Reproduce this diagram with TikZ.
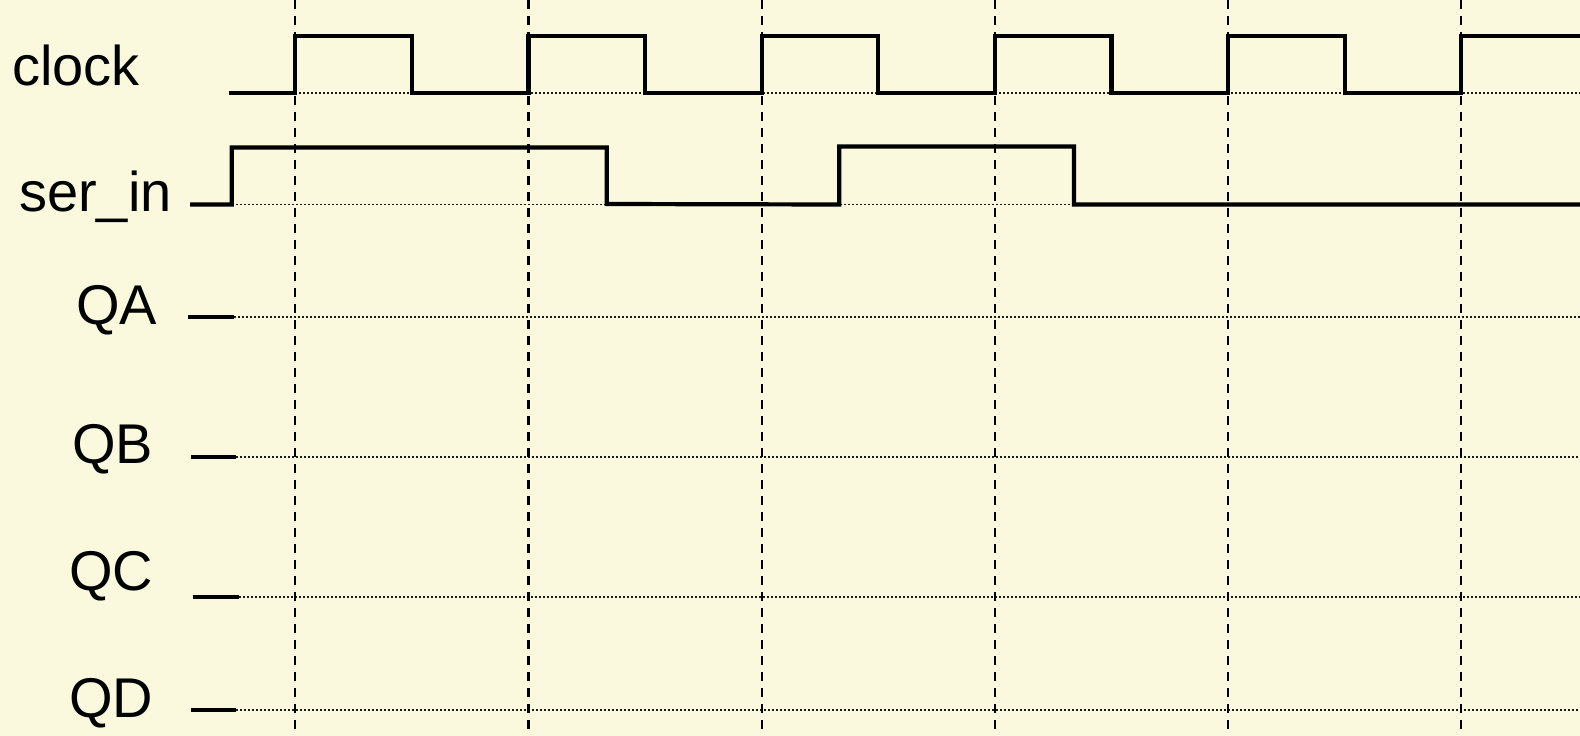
\documentclass[tikz,border=0pt]{standalone}
\usepackage{fontspec}
\setmainfont{Liberation Sans}
\definecolor{bgyellow}{RGB}{250,249,221}
\tikzset{
  sig/.style={line width=4.2pt, line join=miter},
  baseln/.style={line width=1.9pt, dash pattern=on 2pt off 2pt, black!90},
  tick/.style={line width=2.1pt, dash pattern=on 9pt off 7pt, black},
  lbl/.style={anchor=base west, inner sep=0pt, font=\fontsize{56}{60}\selectfont}
}
\begin{document}
\begin{tikzpicture}[x=1pt,y=-1pt]
\fill[bgyellow] (0,0) rectangle (1580,736);
\useasboundingbox (0,0) rectangle (1580,736);
% labels
\node[lbl] (lclock) at (12,85) {clock};
\node[lbl] (lser) at (19,211.5) {ser\_in};
\node[lbl] (lqa) at (76,324) {QA};
\node[lbl] (lqb) at (72,463) {QB};
\node[lbl] (lqc) at (69,590) {QC};
\node[lbl] (lqd) at (69,717) {QD};
% dotted baselines
\draw[baseln] (295,92.7) -- (1580,92.7);
\draw[baseln] (232,204.5) -- (1580,204.5);
\draw[baseln] (234,316.7) -- (1580,316.7);
\draw[baseln] (236,457) -- (1580,457);
\draw[baseln] (238.7,597) -- (1580,597);
\draw[baseln] (236,710) -- (1580,710);
% clock edges (dashed)
\foreach \x in {295.3,528.5,761.7,994.9,1228.1,1461.3}
  \draw[tick] (\x,0) -- (\x,736);
% clock
\draw[sig] (229,92.7) -- (295.3,92.7) -- (295.3,36) -- (411.9,36) -- (411.9,92.7)
  -- (528.5,92.7) -- (528.5,36) -- (645.1,36) -- (645.1,92.7)
  -- (761.7,92.7) -- (761.7,36) -- (878.3,36) -- (878.3,92.7)
  -- (994.9,92.7) -- (994.9,36) -- (1111.5,36) -- (1111.5,92.7)
  -- (1228.1,92.7) -- (1228.1,36) -- (1344.7,36) -- (1344.7,92.7)
  -- (1461.3,92.7) -- (1461.3,36) -- (1582,36);
% ser_in
\draw[sig] (190,204.5) -- (231.7,204.5) -- (231.7,147.5) -- (606.7,147.5) -- (606.7,204)
  -- (839.3,204.5) -- (839.3,146.5) -- (1074,146.5) -- (1074,204.5) -- (1582,204.5);
% Q outputs initial segments
\draw[sig] (188,316.7) -- (234,316.7);
\draw[sig] (190.7,457) -- (236,457);
\draw[sig] (192.7,597) -- (238.7,597);
\draw[sig] (190.7,710) -- (236,710);
\end{tikzpicture}
\end{document}
